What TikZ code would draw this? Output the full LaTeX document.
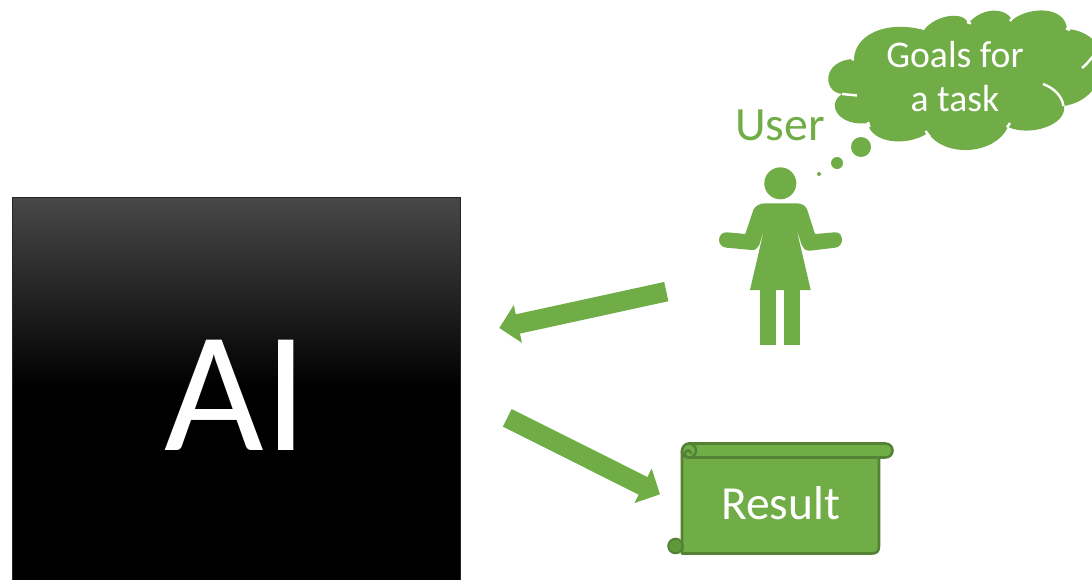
\documentclass[tikz,border=0pt]{standalone}
\usepackage{fontspec}
\setmainfont{Carlito}
\usetikzlibrary{arrows.meta}
\definecolor{grn}{HTML}{70AD47}
\definecolor{grndark}{HTML}{548235}
\definecolor{grnmid}{HTML}{5E9A3A}
\tikzset{
  flow/.style={draw=grn,line width=19.7pt,-{Triangle[length=19pt,width=37.5pt]}},
  seam/.style={draw=white,line width=2.4pt,line cap=butt},
  scrollline/.style={draw=grndark,line width=2.6pt,fill=grn,line join=round},
  lbl/.style={inner sep=0pt,text=white,align=center}
}
\begin{document}
\begin{tikzpicture}[x=1pt,y=-1pt]
\useasboundingbox (0,0) rectangle (1092,579);
\fill[white] (0,0) rectangle (1092,579);
% AI box
\begin{scope}
\clip (0,0) rectangle (1092,579);
\fill[top color=black!72,bottom color=black] (12,197.5) rectangle (460.5,387);
\fill[black] (12,387) rectangle (460.5,590);
\draw[draw=black!85,line width=1pt] (12,197.5) rectangle (460.5,590);
\end{scope}
\node[lbl,font=\fontsize{172}{172}\selectfont] (ai) at (236,395) {AI};
% cloud
\begin{scope}
\clip (0,0) rectangle (1092,579);
\fill[grn] (854,59)
  .. controls (855,35) and (885,20) .. (924,30)
  .. controls (935,15) and (965,10) .. (968,24)
  .. controls (980,8) and (1005,6) .. (1012,20)
  .. controls (1030,6) and (1065,6) .. (1067,29)
  .. controls (1085,30) and (1102,42) .. (1102,60)
  .. controls (1102,85) and (1088,102) .. (1064,106)
  .. controls (1067,125) and (1030,137) .. (1008,127)
  .. controls (995,155) and (945,158) .. (928,133)
  .. controls (905,148) and (870,142) .. (868,123)
  .. controls (840,127) and (825,105) .. (842,94)
  .. controls (822,92) and (822,60) .. (854,59) -- cycle;
\draw[seam] (853,58) -- (852.5,60.5);
\draw[seam] (842,94) -- (857,95.5);
\draw[seam] (868,122) -- (869.5,127);
\draw[seam] (925.5,131) -- (930,137);
\draw[seam] (1007,127.5) -- (1010,123);
\draw[seam] (1043,84) .. controls (1054,88) and (1062,96) .. (1063.5,106);
\draw[seam] (1082,68) .. controls (1086,65) and (1090,60) .. (1094,55);
\draw[seam] (1066,28.5) -- (1070,30);
\draw[seam] (1010,21) -- (1015,15);
\draw[seam] (967,22) -- (971,23.5);
\draw[seam] (920,24.5) -- (924,29.5);
\end{scope}
\node[lbl,font=\fontsize{37.7}{44}\selectfont] (goals) at (955,77) {Goals for\\a task};
\node[circle,fill=grn,inner sep=0pt,minimum size=20pt] (b1) at (861,147) {};
\node[circle,fill=grn,inner sep=0pt,minimum size=12pt] (b2) at (837,163) {};
\node[circle,fill=grn,inner sep=0pt,minimum size=4pt] (b3) at (819,174) {};
\node[inner sep=0pt,text=grn,font=\fontsize{47.7}{48}\selectfont] (user) at (780,125) {User};
% person
\node[circle,fill=grn,inner sep=0pt,minimum size=32pt] (head) at (780.3,183.3) {};
\fill[grn,line join=round] (765,203.3)
  -- (796.7,203.3) .. controls (802,203.3) and (806,206) .. (807.3,210)
  -- (815,234) -- (835,232.3) .. controls (840,232) and (842,236) .. (842,240)
  .. controls (842,244) and (839,247.5) .. (835,247.7)
  -- (810,250.7) .. controls (805,251) and (803,248) .. (801.7,245)
  -- (796.3,228.3) -- (810.7,290) -- (750,290) -- (764.3,228.3)
  -- (759.3,245) .. controls (758,248) and (755,250.5) .. (751.7,250)
  -- (726.7,247.7) .. controls (722,247.5) and (719,244) .. (719,240)
  .. controls (719,236) and (722,232) .. (726.7,232.3)
  -- (745.3,234) -- (753.3,210) .. controls (755,206) and (760,203.3) .. (765,203.3) -- cycle;
\fill[grn] (760.3,289) rectangle (776.3,345.3);
\fill[grn] (784.3,289) rectangle (800,345.3);
% arrows
\coordinate (t1) at (666.3,291.6);
\coordinate (h1) at (499.3,328);
\coordinate (t2) at (507.3,417.8);
\coordinate (h2) at (660,494.3);
\draw[flow] (t1) -- (h1);
\draw[flow] (t2) -- (h2);
% scroll
\draw[scrollline] (682,451) -- (682,553.5) -- (872,553.5) .. controls (877,553.5) and (879,551) .. (879,546)
  -- (879,457) -- (689,457) -- cycle;
\draw[scrollline] (689,443.5) -- (885,443.5) .. controls (890,443.5) and (892.5,447) .. (892.5,450.5)
  .. controls (892.5,454) and (890,457.5) .. (885,457.5) -- (689,457.5)
  .. controls (685,457.5) and (682,455) .. (682,451) .. controls (682,447) and (685,443.5) .. (689,443.5) -- cycle;
\draw[draw=grndark,line width=2.4pt,line cap=round] (689,443.5) .. controls (693,443.5) and (696,447) .. (696,450.5) .. controls (696,454.5) and (693,457.5) .. (689,457.5)
  .. controls (685,457.5) and (684,453) .. (686,451.5) .. controls (688,449.5) and (691,450.5) .. (691,453);
\node[circle,draw=grndark,fill=grnmid,line width=2pt,inner sep=0pt,minimum size=14.5pt] (curl) at (675.5,546) {};
\draw[draw=grndark,line width=2.6pt] (682,540) -- (682,553.5);
\node[lbl,font=\fontsize{47.5}{48}\selectfont] (result) at (780.5,503) {Result};
\end{tikzpicture}
\end{document}
